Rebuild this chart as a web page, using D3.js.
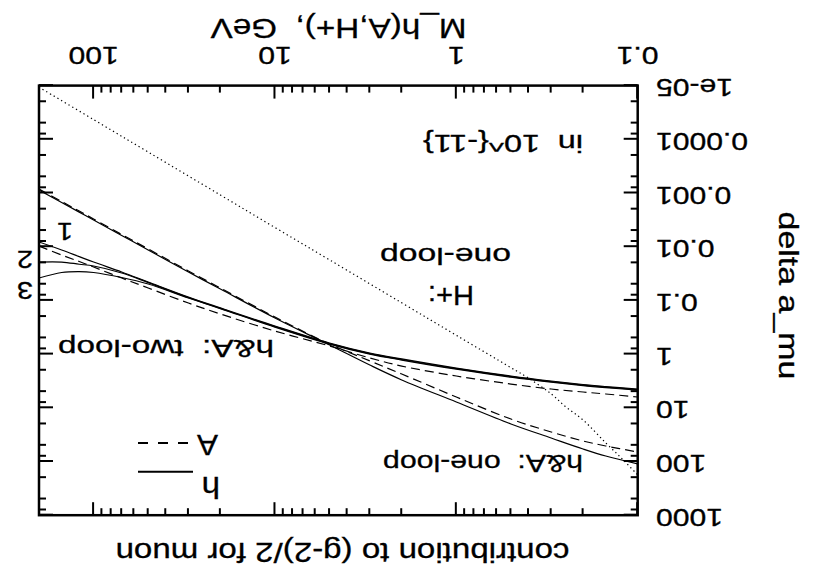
<!DOCTYPE html>
<html>
<head>
<meta charset="utf-8">
<script src="https://cdn.jsdelivr.net/npm/d3@7"></script>
<style>
  body { margin: 0; background: #fff; }
  svg text { font-family: "Liberation Sans", Arial, Helvetica, sans-serif; fill: #000; stroke: #000; stroke-width: 0.3px; white-space: pre; }
</style>
</head>
<body>
<svg id="chart" width="814" height="571"></svg>
<script>
// Higgs masses (GeV) at which the neutral-Higgs contributions are tabulated
const massGrid = [200, 150, 120, 100, 70, 50, 30, 20, 10, 5, 3, 2, 1, 0.5, 0.3, 0.2, 0.15, 0.1];

// one-loop contributions, units of 1e-11
const hOneLoop = [8.79e-4, 1.50e-3, 2.27e-3, 3.18e-3, 6.18e-3, 0.0115, 0.0296, 0.0614, 0.213, 0.676, 1.60, 3.03, 7.80, 20.0, 36.5, 58.5, 79.1, 111];
const aOneLoop = [8.42e-4, 1.44e-3, 2.17e-3, 3.05e-3, 5.93e-3, 0.0110, 0.0283, 0.0587, 0.204, 0.649, 1.34, 2.35, 6.30, 16.2, 28.2, 41.5, 51.4, 66.5];

// two-loop contributions (three h variants, one A)
const hTwoLoop1 = [8.16e-3, 0.0115, 0.0153, 0.0193, 0.0296, 0.0454, 0.0865, 0.138, 0.300, 0.621, 0.955, 1.23, 1.82, 2.56, 3.17, 3.68, 4.01, 4.47];
const hTwoLoop2 = [0.0193, 0.0193, 0.0212, 0.0229, 0.0309, 0.0466, 0.0887, 0.141, 0.307, 0.637, 0.979, 1.26, 1.87, 2.62, 3.25, 3.77, 4.11, 4.58];
const hTwoLoop3 = [0.0383, 0.0302, 0.0290, 0.0302, 0.0375, 0.0496, 0.0902, 0.142, 0.315, 0.652, 1.00, 1.29, 1.91, 2.69, 3.33, 3.86, 4.21, 4.69];
const aTwoLoop = [9.70e-3, 0.0143, 0.0189, 0.0239, 0.0383, 0.0587, 0.112, 0.179, 0.372, 0.706, 1.18, 1.67, 2.56, 3.61, 4.47, 5.08, 5.53, 6.30];

// charged Higgs one-loop
const chargedMass = [200, 100, 50, 20, 10, 5, 2, 1, 0.5, 0.4, 0.3, 0.25, 0.2, 0.15, 0.12, 0.1];
const chargedOneLoop = [1.07e-5, 4.3e-5, 1.73e-4, 1.09e-3, 4.4e-3, 0.0176, 0.111, 0.447, 1.79, 2.8, 5.5, 9.5, 16.9, 45, 94, 178];

// axis ticks
const massTickValues = [0.1, 1, 10, 100];
const massTickLabels = ["0.1", "1", "10", "100"];
const massMinorSteps = [2, 3, 4, 5, 6, 7, 8, 9];
const deltaTickValues = [1e-5, 1e-4, 1e-3, 1e-2, 0.1, 1, 10, 100, 1000];
const deltaTickLabels = ["1e-05", "0.0001", "0.001", "0.01", "0.1", "1", "10", "100", "1000"];
const deltaMinorSteps = [2, 5, 8];

const W = 814, H = 571;
const plotLeft = 176.3, plotRight = 775, plotTop = 55.8, plotBottom = 485.4;

const svg = d3.select("#chart");
svg.append("rect").attr("width", W).attr("height", H).attr("fill", "#fff");

// the whole figure is drawn turned half a revolution
const g = svg.append("g").attr("transform", `rotate(180 ${W / 2} ${H / 2})`);

const x = d3.scaleLog().domain([0.1, 200]).range([plotLeft, plotRight]);
const y = d3.scaleLog().domain([1e-5, 1000]).range([plotBottom, plotTop]);

const massMinor = [];
massTickValues.slice(0, 3).forEach(d => massMinorSteps.forEach(s => massMinor.push(d * s)));
const deltaMinor = [];
deltaTickValues.slice(0, 8).forEach(d => deltaMinorSteps.forEach(s => deltaMinor.push(d * s)));

function tickAxis(axisFn, scale, values, size, transform) {
  const a = g.append("g").attr("transform", transform)
    .call(axisFn(scale).tickValues(values).tickSize(-size).tickFormat(""));
  a.select(".domain").remove();
  a.selectAll(".tick line").attr("stroke", "#000").attr("stroke-width", 2);
  return a;
}
tickAxis(d3.axisBottom, x, massTickValues, 13, `translate(0,${plotBottom})`);
tickAxis(d3.axisBottom, x, massMinor, 7, `translate(0,${plotBottom})`);
tickAxis(d3.axisTop, x, massTickValues, 13, `translate(0,${plotTop})`);
tickAxis(d3.axisTop, x, massMinor, 7, `translate(0,${plotTop})`);
tickAxis(d3.axisLeft, y, deltaTickValues, 14, `translate(${plotLeft},0)`);
tickAxis(d3.axisLeft, y, deltaMinor, 7, `translate(${plotLeft},0)`);
tickAxis(d3.axisRight, y, deltaTickValues, 14, `translate(${plotRight},0)`);
tickAxis(d3.axisRight, y, deltaMinor, 7, `translate(${plotRight},0)`);

// frame
g.append("rect").attr("x", plotLeft).attr("y", plotTop)
  .attr("width", plotRight - plotLeft).attr("height", plotBottom - plotTop)
  .attr("fill", "none").attr("stroke", "#000").attr("stroke-width", 2.5);

// curves
svg.append("defs").append("clipPath").attr("id", "plot-clip")
  .append("rect").attr("x", plotLeft).attr("y", plotTop)
  .attr("width", plotRight - plotLeft).attr("height", plotBottom - plotTop);

const line = d3.line().x(d => x(d[0])).y(d => y(d[1])).curve(d3.curveCatmullRom.alpha(0.5));
const curves = g.append("g").attr("clip-path", "url(#plot-clip)");

function drawCurve(masses, values, dash, width) {
  curves.append("path")
    .datum(masses.map((m, i) => [m, values[i]]))
    .attr("d", line)
    .attr("fill", "none")
    .attr("stroke", "#000")
    .attr("stroke-width", width)
    .attr("stroke-dasharray", dash);
}
drawCurve(chargedMass, chargedOneLoop, "1.3,3", 1.2);
drawCurve(massGrid, hOneLoop, null, 1.2);
drawCurve(massGrid, aOneLoop, "9,5", 1.2);
drawCurve(massGrid, hTwoLoop1, null, 1.2);
drawCurve(massGrid, hTwoLoop2, null, 1.2);
drawCurve(massGrid, hTwoLoop3, null, 1.2);
drawCurve(massGrid, aTwoLoop, "9,5", 1.2);

// text helpers
function stretched(str, px, py, size, sx, anchor) {
  return g.append("text")
    .attr("transform", `translate(${px},${py}) scale(${sx},1)`)
    .attr("text-anchor", anchor)
    .attr("font-size", size)
    .text(str);
}
function fitted(str, px, py, size, width, anchor) {
  return g.append("text")
    .attr("x", px).attr("y", py)
    .attr("text-anchor", anchor)
    .attr("font-size", size)
    .attr("textLength", width)
    .attr("lengthAdjust", "spacingAndGlyphs")
    .text(str);
}

// tick labels
massTickValues.forEach((d, i) => stretched(massTickLabels[i], x(d), 524, 23.5, 1.28, "middle"));
deltaTickValues.forEach((d, i) => stretched(deltaTickLabels[i], 158, y(d) + 6.5, 23.5, 1.28, "end"));

// titles
fitted("contribution to (g-2)/2 for muon", 471.5, 28, 28, 454, "middle");
fitted("M_h(A,H+),  GeV", 475.5, 552, 28, 256, "middle");
g.append("text")
  .attr("transform", "translate(35,275.5) rotate(-90)")
  .attr("text-anchor", "middle").attr("font-size", 28)
  .attr("textLength", 168).attr("lengthAdjust", "spacingAndGlyphs")
  .text("delta a_mu");

// annotations
fitted("h&A:  one-loop", 231, 116, 24.5, 200, "start");
fitted("h&A:  two-loop", 540, 231, 24.5, 216, "start");
fitted("H+:", 340, 285, 27, 46, "start");
fitted("one-loop", 303, 322.7, 24.5, 131, "start");
fitted("in  10^{-11}", 231, 436, 23.5, 160, "start");
stretched("1", 749, 348, 24, 1.2, "middle");
stretched("2", 789, 320, 24, 1.2, "middle");
stretched("3", 789, 289, 24, 1.2, "middle");

// legend
stretched("h", 594, 94, 30, 1.1, "start");
stretched("A", 596, 136, 30, 1.05, "start");
g.append("line").attr("x1", 621).attr("x2", 676).attr("y1", 99.3).attr("y2", 99.3)
  .attr("stroke", "#000").attr("stroke-width", 2);
g.append("line").attr("x1", 626).attr("x2", 676).attr("y1", 128).attr("y2", 128)
  .attr("stroke", "#000").attr("stroke-width", 2).attr("stroke-dasharray", "10,10");
</script>
</body>
</html>
